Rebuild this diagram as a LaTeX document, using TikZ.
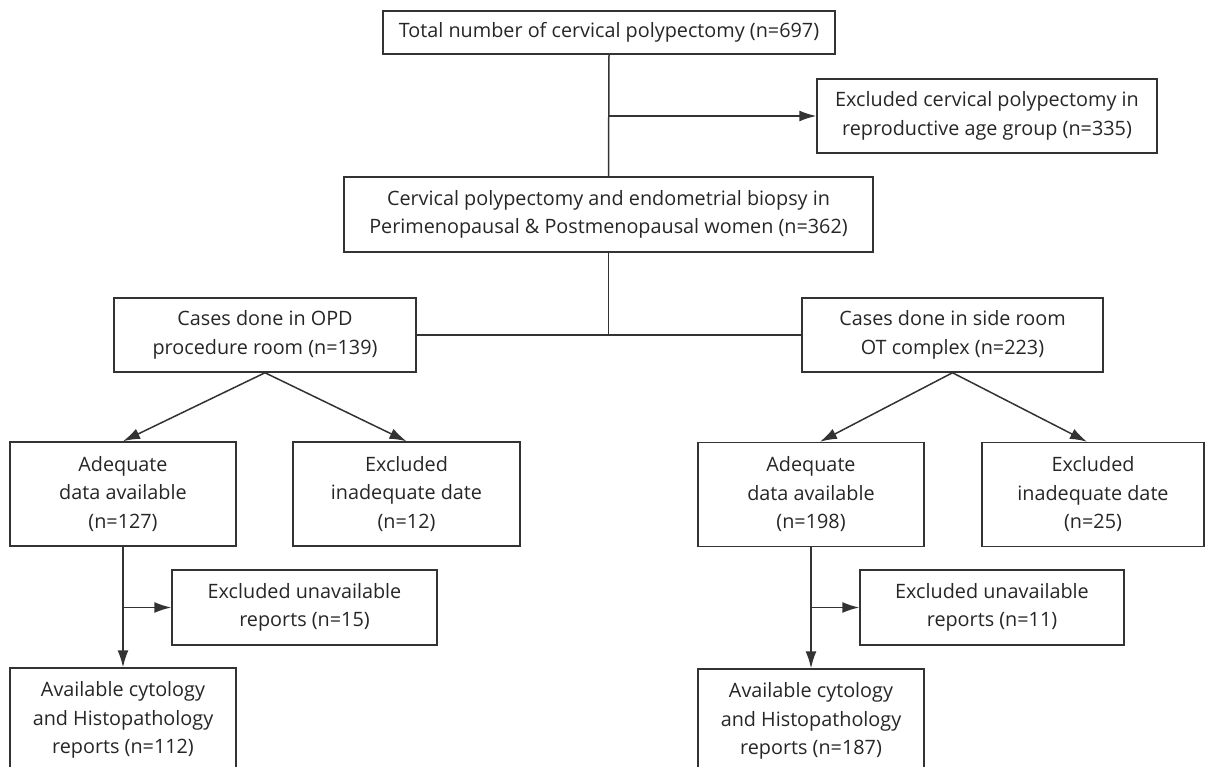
\documentclass[tikz,border=0pt]{standalone}
\usepackage{fontspec}
\setmainfont{Open Sans}
\usepackage{tikz}
\usetikzlibrary{arrows.meta}
\RequirePackage{xcolor}
\definecolor{line-gray}{HTML}{333333}
\definecolor{text-gray}{HTML}{262626}
\tikzset{
  box/.style={draw=line-gray, line width=1.5pt, align=center, inner sep=0pt,
    text=text-gray, font=\fontsize{19.8}{28.5}\selectfont},
  link/.style={draw=line-gray, line width=1.5pt},
  arr/.style={link, -{Latex[length=17pt,width=11pt]}}
}
\begin{document}
\begin{tikzpicture}[x=1pt, y=-1pt]
    \useasboundingbox (0, 0) rectangle (1205, 767);
    \node[box, minimum width=452pt, minimum height=43pt] (total) at (609, 32.5) {Total number of cervical polypectomy (n=697)};
    \node[box, minimum width=340pt, minimum height=74pt] (excl-repro) at (987, 116) {Excluded cervical polypectomy in\\reproductive age group (n=335)};
    \node[box, minimum width=529pt, minimum height=75pt] (peri) at (608.5, 214.5) {Cervical polypectomy and endometrial biopsy in\\Perimenopausal \& Postmenopausal women (n=362)};
    \node[box, minimum width=302pt, minimum height=74pt] (opd) at (265, 335) {Cases done in OPD\\procedure room (n=139)};
    \node[box, minimum width=301pt, minimum height=74pt] (side) at (952.5, 335) {Cases done in side room\\OT complex (n=223)};
    \node[box, minimum width=226pt, minimum height=104pt] (adeq-opd) at (123, 494) {Adequate\\data available\\(n=127)};
    \node[box, minimum width=227pt, minimum height=104pt] (inad-opd) at (406.5, 494) {Excluded\\inadequate date\\(n=12)};
    \node[box, minimum width=226pt, minimum height=104pt] (adeq-side) at (811, 494.5) {Adequate\\data available\\(n=198)};
    \node[box, minimum width=222pt, minimum height=104pt] (inad-side) at (1093, 494.5) {Excluded\\inadequate date\\(n=25)};
    \node[box, minimum width=265pt, minimum height=75pt] (unav-opd) at (304.5, 607.5) {Excluded unavailable\\reports (n=15)};
    \node[box, minimum width=264pt, minimum height=75pt] (unav-side) at (992, 607.5) {Excluded unavailable\\reports (n=11)};
    \node[box, minimum width=226pt, minimum height=104pt] (avail-opd) at (123, 720) {Available cytology\\and Histopathology\\reports (n=112)};
    \node[box, minimum width=226pt, minimum height=104pt] (avail-side) at (811, 721) {Available cytology\\and Histopathology\\reports (n=187)};
    \draw[link] (total.south) -- (peri.north);
    \draw[arr] (total.south |- excl-repro.west) -- (excl-repro.west);
    \draw[link] (peri.south) -- (peri.south |- opd.east);
    \draw[link] (opd.east) -- (side.west);
    \draw[arr] (opd.south) -- (adeq-opd.north);
    \draw[arr] (opd.south) -- (inad-opd.north);
    \draw[arr] (side.south) -- ([xshift=9pt]adeq-side.north);
    \draw[arr] (side.south) -- ([xshift=-6pt]inad-side.north);
    \draw[arr] (adeq-opd.south) -- (avail-opd.north);
    \draw[arr] (adeq-opd.south |- unav-opd.west) -- (unav-opd.west);
    \draw[arr] (adeq-side.south) -- (avail-side.north);
    \draw[arr] (adeq-side.south |- unav-side.west) -- (unav-side.west);
  \end{tikzpicture}
\end{document}
